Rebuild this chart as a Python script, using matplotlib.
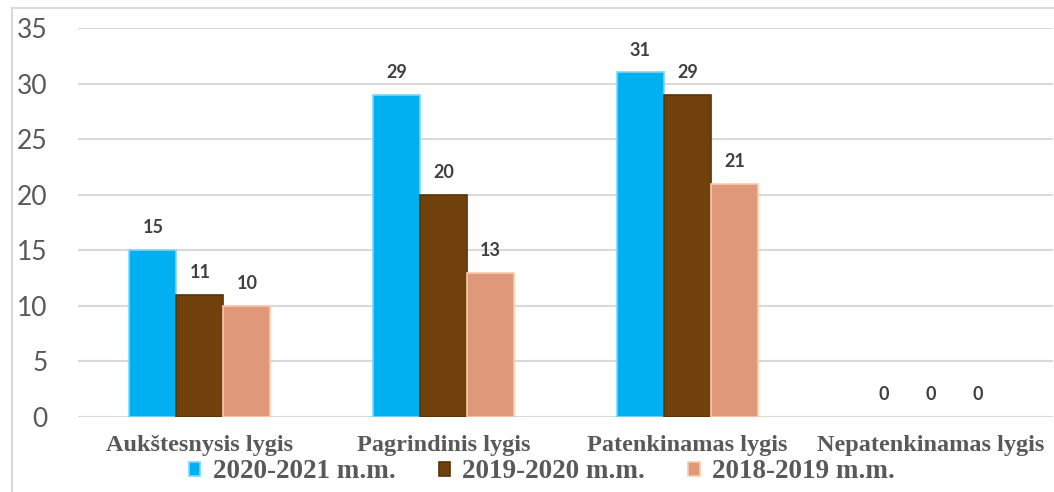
import matplotlib.pyplot as plt
import numpy as np
from matplotlib.lines import Line2D
from matplotlib.patches import Patch

categories = ["Aukštesnysis lygis", "Pagrindinis lygis", "Patenkinamas lygis", "Nepatenkinamas lygis"]
series_names = ["2020-2021 m.m.", "2019-2020 m.m.", "2018-2019 m.m."]
values_2020_2021 = [15, 29, 31, 0]
values_2019_2020 = [11, 20, 29, 0]
values_2018_2019 = [10, 13, 21, 0]
y_ticks = [0, 5, 10, 15, 20, 25, 30, 35]

colors = ["#00B0F0", "#70410B", "#E0987A"]
edges = ["#7FD6F7", "#5A3408", "#F8CBAD"]

W, H = 1054, 492
fig = plt.figure(figsize=(W / 100, H / 100), dpi=100)
ax = fig.add_axes([78 / W, 1 - 417 / H, 975 / W, 389 / H])

x = np.arange(len(categories))
bw = 0.193
all_vals = [values_2020_2021, values_2019_2020, values_2018_2019]
for i, vals in enumerate(all_vals):
    pos = x + (i - 1) * bw
    lw = [1.2 if v > 0 else 0 for v in vals]
    ax.bar(pos, vals, width=bw, color=colors[i], edgecolor=edges[i], linewidth=lw, zorder=3)
    for xp, v in zip(pos, vals):
        ax.annotate(str(v), (xp, v), xytext=(0, 10), textcoords="offset points",
                    ha="center", va="bottom", fontsize=13, fontweight="bold",
                    family="Lato", color="#404040")

ax.set_xlim(-0.5, len(categories) - 0.5)
ax.set_ylim(0, 35)
ax.set_yticks(y_ticks)
ax.yaxis.grid(True, color="#D9D9D9", linewidth=1.5, zorder=0)
ax.set_axisbelow(True)
for s in ax.spines.values():
    s.set_visible(False)
ax.tick_params(axis="y", length=0, pad=22, labelsize=19, labelcolor="#595959")
ax.tick_params(axis="x", length=0, pad=13)
for lab in ax.get_yticklabels():
    lab.set_family("Lato")
ax.set_xticks(x)
ax.set_xticklabels(categories, family="Liberation Serif", fontweight="bold", fontsize=17.5, color="#595959")

# outer chart frame (partly cropped)
fig.add_artist(Line2D([12 / W, 12 / W], [0, 1 - 8 / H], transform=fig.transFigure, color="#D9D9D9", linewidth=1.5))
fig.add_artist(Line2D([12 / W, 1], [1 - 8 / H, 1 - 8 / H], transform=fig.transFigure, color="#D9D9D9", linewidth=1.5))

handles = [Patch(facecolor=colors[i], edgecolor=edges[i], linewidth=1.2) for i in range(3)]
leg = fig.legend(handles, series_names, loc="center", bbox_to_anchor=(542 / W, 1 - 472 / H), ncol=3,
                 frameon=False, handlelength=0.42, handleheight=0.42, handletextpad=0.45, columnspacing=1.6,
                 prop={"family": "Liberation Serif", "weight": "bold", "size": 19.5})
for t in leg.get_texts():
    t.set_color("#595959")

fig.savefig("out.png", dpi=100)
